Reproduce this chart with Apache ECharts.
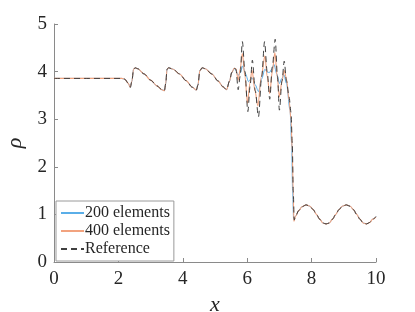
<!DOCTYPE html>
<html>
<head>
<meta charset="utf-8">
<script src="https://cdn.jsdelivr.net/npm/echarts@6/dist/echarts.min.js"></script>
<style>
html,body{margin:0;padding:0;background:#fff;}
#chart{width:415px;height:312px;}
</style>
</head>
<body>
<div id="chart"></div>
<script>
// Shared parts of the curve (all three solutions coincide there)
const preShock = [
  [0, 3.857], [1.0, 3.857], [2.1, 3.857], [2.2, 3.84], [2.3, 3.76], [2.37, 3.67],
  [2.42, 3.8], [2.47, 4.05], [2.52, 4.08], [2.6, 4.06], [2.8, 3.95], [3.0, 3.82],
  [3.2, 3.70], [3.35, 3.62], [3.43, 3.60], [3.47, 3.75], [3.51, 4.05], [3.56, 4.08],
  [3.7, 4.05], [3.9, 3.95], [4.1, 3.81], [4.3, 3.67], [4.42, 3.61], [4.47, 3.72],
  [4.53, 4.02], [4.6, 4.08], [4.7, 4.06], [4.9, 3.95], [5.1, 3.80], [5.25, 3.68],
  [5.36, 3.62], [5.45, 3.80], [5.52, 3.98], [5.6, 4.07]
];
const postShock = [
  [7.5, 0.96], [7.6, 1.08], [7.7, 1.16], [7.83, 1.2], [7.95, 1.17], [8.05, 1.1],
  [8.15, 1.0], [8.25, 0.9], [8.35, 0.82], [8.45, 0.8], [8.55, 0.82], [8.65, 0.9],
  [8.75, 1.0], [8.85, 1.1], [8.95, 1.17], [9.08, 1.2], [9.2, 1.17], [9.3, 1.1],
  [9.4, 1.0], [9.5, 0.9], [9.6, 0.82], [9.71, 0.8], [9.8, 0.83], [9.9, 0.9], [10.0, 0.95]
];
// Oscillatory region, per solution
const osc200 = [
  [5.65, 4.02], [5.72, 3.92], [5.79, 3.98], [5.86, 4.12], [5.95, 3.95], [6.04, 3.79],
  [6.10, 3.84], [6.16, 3.86], [6.25, 3.72], [6.35, 3.58], [6.45, 3.85], [6.55, 4.05],
  [6.62, 3.99], [6.69, 3.98], [6.76, 4.05], [6.83, 4.15], [6.92, 3.95], [7.0, 3.75],
  [7.07, 3.85], [7.14, 3.93], [7.22, 3.75], [7.33, 3.19], [7.38, 2.5], [7.41, 1.5],
  [7.44, 0.92]
];
const osc400 = [
  [5.65, 4.06], [5.72, 3.82], [5.78, 4.05], [5.85, 4.38], [5.93, 3.9], [6.01, 3.33],
  [6.08, 3.75], [6.15, 4.03], [6.24, 3.6], [6.33, 3.28], [6.44, 3.9], [6.55, 4.33],
  [6.62, 3.9], [6.7, 3.54], [6.78, 4.0], [6.86, 4.40], [6.93, 3.9], [7.0, 3.47],
  [7.08, 3.8], [7.15, 4.02], [7.22, 3.85], [7.3, 3.4], [7.36, 3.0], [7.40, 2.3],
  [7.43, 1.4], [7.45, 0.85]
];
const oscRef = [
  [5.65, 4.05], [5.72, 3.62], [5.78, 3.9], [5.85, 4.63], [5.93, 4.0], [6.02, 3.16],
  [6.09, 3.7], [6.16, 4.24], [6.25, 3.6], [6.35, 3.05], [6.45, 3.9], [6.54, 4.63],
  [6.62, 4.0], [6.7, 3.42], [6.78, 4.1], [6.87, 4.68], [6.94, 3.9], [7.0, 3.19],
  [7.08, 3.8], [7.15, 4.22], [7.22, 3.8], [7.3, 3.47], [7.36, 3.15], [7.40, 2.5],
  [7.43, 1.5], [7.46, 0.88]
];
const seriesNames = ['200 elements', '400 elements', 'Reference'];
const xTicks = [0, 2, 4, 6, 8, 10];
const yTicks = [0, 1, 2, 3, 4, 5];

const font = 'Liberation Serif';
const chart = echarts.init(document.getElementById('chart'), null, {renderer: 'canvas'});

function mk(name, osc, color, type, width) {
  return {
    name: name,
    type: 'line',
    data: preShock.concat(osc, postShock),
    symbol: 'none',
    smooth: 0.3,
    smoothMonotone: 'x',
    animation: false,
    lineStyle: {color: color, width: width, type: type},
    itemStyle: {color: color}
  };
}

chart.setOption({
  animation: false,
  backgroundColor: '#fff',
  textStyle: {fontFamily: font},
  grid: {left: 54, right: 39, top: 24, bottom: 50, containLabel: false, outerBoundsMode: 'none'},
  xAxis: {
    type: 'value', min: xTicks[0], max: xTicks[xTicks.length - 1], interval: 2,
    name: 'x', nameLocation: 'middle', nameGap: 31,
    nameTextStyle: {fontFamily: font, fontStyle: 'italic', fontSize: 22, color: '#262626'},
    axisLine: {show: true, lineStyle: {color: '#8a8a8a', width: 1}},
    axisTick: {show: true, inside: true, length: 4, lineStyle: {color: '#8a8a8a'}},
    axisLabel: {fontFamily: font, fontSize: 19, color: '#262626', margin: 8},
    splitLine: {show: false}
  },
  yAxis: {
    type: 'value', min: yTicks[0], max: yTicks[yTicks.length - 1], interval: 1,
    name: 'ρ', nameLocation: 'middle', nameGap: 25, nameRotate: 90,
    nameTextStyle: {fontFamily: font, fontStyle: 'italic', fontSize: 22, color: '#262626'},
    axisLine: {show: true, lineStyle: {color: '#8a8a8a', width: 1}},
    axisTick: {show: true, inside: true, length: 4, lineStyle: {color: '#8a8a8a'}},
    axisLabel: {fontFamily: font, fontSize: 19, color: '#262626', margin: 7},
    splitLine: {show: false}
  },
  legend: {
    left: 56, top: 201, orient: 'vertical',
    backgroundColor: '#fff', borderColor: '#9a9a9a', borderWidth: 1, borderRadius: 0,
    padding: [3, 4, 3, 4], itemWidth: 23, itemHeight: 14, itemGap: 0,
    itemStyle: {opacity: 0},
    textStyle: {fontFamily: font, fontSize: 16, color: '#262626', lineHeight: 18, padding: [0, 0, 0, -4]},
    data: seriesNames
  },
  series: [
    mk(seriesNames[0], osc200, '#5aaee8', 'solid', 1),
    mk(seriesNames[1], osc400, '#f2a37f', 'solid', 1.1),
    mk(seriesNames[2], oscRef, '#404040', [6, 4], 1)
  ]
});
</script>
</body>
</html>
